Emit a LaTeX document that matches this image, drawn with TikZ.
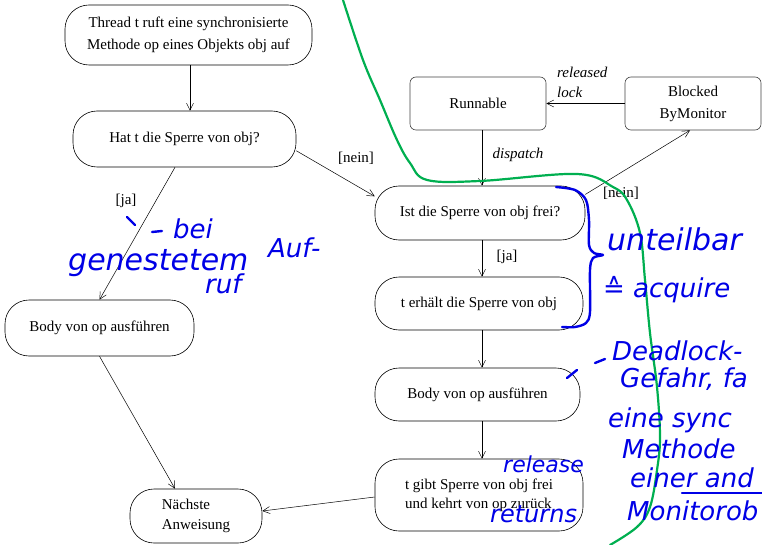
\documentclass[tikz,border=0pt]{standalone}
\usepackage{fontspec}
\setmainfont{Liberation Serif}
\newfontfamily\handfont{DejaVu Sans}
\usetikzlibrary{arrows.meta}
\definecolor{pen}{RGB}{0,0,230}
\definecolor{marker}{RGB}{0,175,80}

\begin{document}
\begin{tikzpicture}[x=1pt,y=-1pt,
  activity/.style={draw, line width=0.6pt, rounded corners=24pt, align=center, inner sep=0pt, font=\fontsize{15}{22}\selectfont},
  state/.style={draw=black!75, line width=0.6pt, rounded corners=6pt, align=center, inner sep=0pt, minimum width=136pt, minimum height=53pt, font=\fontsize{15}{22}\selectfont},
  guard/.style={inner sep=0pt, font=\fontsize{15}{18}\selectfont},
  event/.style={inner sep=0pt, align=left, font=\fontsize{15}{20}\selectfont\itshape},
  flow/.style={line width=0.5pt, -{Straight Barb[length=7pt,width=7pt]}},
  note/.style={text=pen, inner sep=0pt, anchor=base west, font=\handfont\itshape\fontsize{26}{30}\selectfont},
  penline/.style={draw=pen, line width=2.4pt, line cap=round, line join=round}]
\useasboundingbox (0,0) rectangle (762,545);
\clip (0,0) rectangle (762,545);

\node[activity, minimum width=247pt, minimum height=60pt] (call) at (188.5,35) {Thread t ruft eine synchronisierte\\Methode op eines Objekts obj auf};
\node[activity, minimum width=223pt, minimum height=56pt] (owns) at (184.5,139) {Hat t die Sperre von obj?};
\node[state] (runnable) at (478,103.5) {Runnable};
\node[state] (blocked) at (693,103.5) {Blocked\\ByMonitor};
\node[activity, minimum width=210pt, minimum height=54pt] (free) at (480,213) {Ist die Sperre von obj frei?};
\node[activity, minimum width=208pt, minimum height=53pt] (acquire) at (479,303.5) {t erhält die Sperre von obj};
\node[activity, minimum width=205pt, minimum height=53pt] (bodyB) at (477.5,394.5) {Body von op ausführen};
\node[activity, minimum width=208pt, minimum height=72pt, align=left, font=\fontsize{15}{19}\selectfont] (release) at (479,495) {t gibt Sperre von obj frei\\und kehrt von op zurück};
\node[activity, minimum width=189pt, minimum height=56pt] (bodyA) at (99.5,328) {Body von op ausführen};
\node[activity, minimum width=132pt, minimum height=54pt, align=left, font=\fontsize{15}{20}\selectfont] (next) at (196,516) {Nächste\\Anweisung};

\node[guard] (noA) at (356,158) {[nein]};
\node[guard] (yesA) at (126,201) {[ja]};
\node[event] (dispatch) at (518,155) {dispatch};
\node[event, anchor=west] (unlock) at (557,82) {released\\lock};
\node[guard] (noB) at (621,193) {[nein]};
\node[guard] (yesB) at (507,257) {[ja]};

\draw[flow] ([xshift=1.5pt]call.south) -- ([xshift=5.5pt]owns.north);
\draw[flow] (owns.-6) -- (free.171);
\draw[flow] ([xshift=-9.5pt]owns.south) -- (bodyA.north);
\draw[flow] (bodyA.south) -- ([xshift=-21pt]next.north);
\draw[flow] ([xshift=4pt]runnable.south) -- ([xshift=2pt]free.north);
\draw[flow] (blocked.west) -- (runnable.east);
\draw[flow] (free.10) -- ([xshift=-3pt]blocked.south);
\draw[flow] ([xshift=2pt]free.south) -- ([xshift=3pt]acquire.north);
\draw[flow] ([xshift=3pt]acquire.south) -- ([xshift=4.5pt]bodyB.north);
\draw[flow] ([xshift=4.5pt]bodyB.south) -- ([xshift=3pt]release.north);
\draw[flow] ([yshift=-2pt]release.west) -- ([yshift=5pt]next.east);

\draw[draw=marker, line width=2.2pt, line cap=round] plot[smooth, tension=0.6] coordinates {(343,0) (363,60) (380,100) (397,140) (410,163) (427,180) (480,181) (577,174) (613,187) (627,200) (640,233) (645,280) (650,333) (657,387) (660,437) (657,470) (650,507) (637,527) (610,545)};

\draw[penline] plot[smooth, tension=0.5] coordinates {(556,187) (575,190) (586,200) (589,220) (589,245) (594,253) (603,255) (593,258) (590,270) (590,312) (586,323) (575,327) (562,327)};
\draw[penline] (127,217) -- (135,225);
\draw[penline] (152,232) -- (162,231);
\draw[penline] (595,363) -- (605,359);
\draw[penline] (567,378) -- (577,370);
\draw[penline] (682,493) -- (762,493);

\node[note] (ruleA) at (173,238) {bei};
\node[note, font=\handfont\itshape\fontsize{30}{30}\selectfont] (ruleB) at (68,270) {genestetem};
\node[note] (ruleC) at (268,257) {Auf-};
\node[note] (ruleD) at (205,293) {ruf};
\node[note, font=\handfont\itshape\fontsize{30}{30}\selectfont] (atomic) at (607,250) {unteilbar};
\node[note] (same) at (603,297) {≙ acquire};
\node[note] (riskA) at (612,360) {Deadlock-};
\node[note] (riskB) at (620,387) {Gefahr, fa};
\node[note] (riskC) at (608,427) {eine sync};
\node[note] (riskD) at (622,458) {Methode};
\node[note] (riskE) at (630,487) {einer and};
\node[note] (riskF) at (627,520) {Monitorob};
\node[note, font=\handfont\itshape\fontsize{22}{24}\selectfont] (unlockB) at (503,472) {release};
\node[note, font=\handfont\itshape\fontsize{24}{24}\selectfont] (back) at (490,522) {returns};
\end{tikzpicture}
\end{document}
